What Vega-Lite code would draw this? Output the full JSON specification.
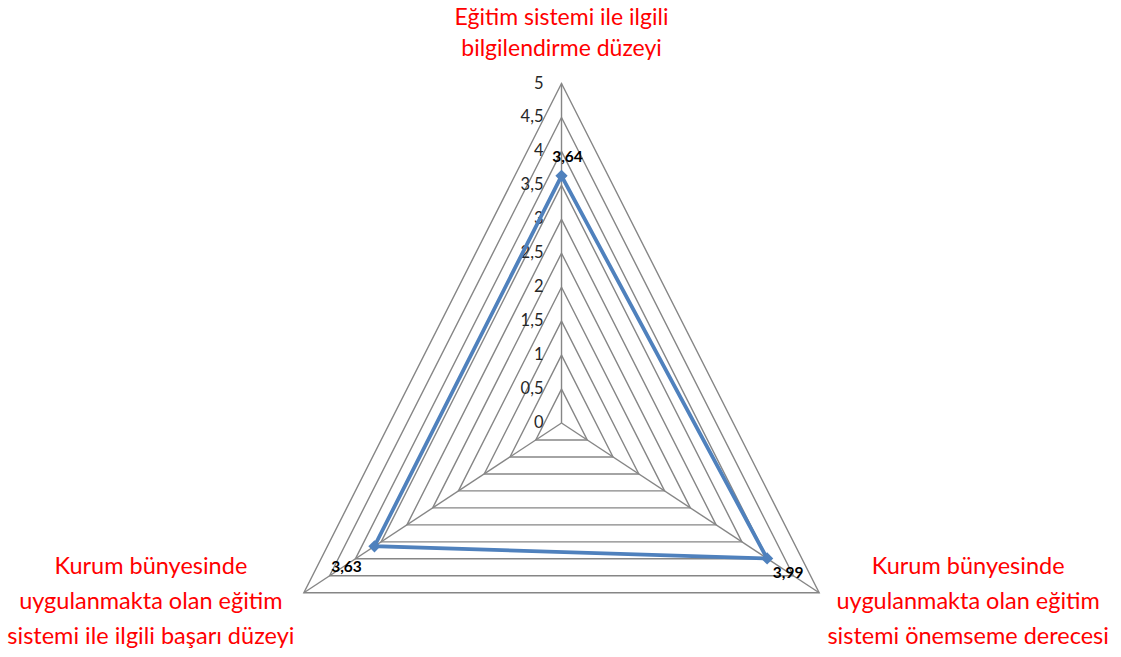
{
  "$schema": "https://vega.github.io/schema/vega-lite/v6.json",
  "width": 1121,
  "height": 657,
  "autosize": {"type": "none"},
  "padding": 0,
  "background": "white",
  "config": {
    "view": {"stroke": null},
    "locale": {"number": {"decimal": ",", "thousands": ".", "grouping": [3], "currency": ["", " TL"]}}
  },
  "datasets": {
    "scores": [
      {"i": 0, "puan": 3.64, "lines": ["Eğitim sistemi ile ilgili", "bilgilendirme düzeyi"]},
      {"i": 1, "puan": 3.99, "lines": ["Kurum bünyesinde", "uygulanmakta olan eğitim", "sistemi önemseme derecesi"]},
      {"i": 2, "puan": 3.63, "lines": ["Kurum bünyesinde", "uygulanmakta olan eğitim", "sistemi ile ilgili başarı düzeyi"]}
    ],
    "grid": [
      {"lv": 0.5, "ax": [0, 1, 2]},
      {"lv": 1, "ax": [0, 1, 2]},
      {"lv": 1.5, "ax": [0, 1, 2]},
      {"lv": 2, "ax": [0, 1, 2]},
      {"lv": 2.5, "ax": [0, 1, 2]},
      {"lv": 3, "ax": [0, 1, 2]},
      {"lv": 3.5, "ax": [0, 1, 2]},
      {"lv": 4, "ax": [0, 1, 2]},
      {"lv": 4.5, "ax": [0, 1, 2]},
      {"lv": 5, "ax": [0, 1, 2]}
    ],
    "ticks": [
      {"lv": 0}, {"lv": 0.5}, {"lv": 1}, {"lv": 1.5}, {"lv": 2}, {"lv": 2.5},
      {"lv": 3}, {"lv": 3.5}, {"lv": 4}, {"lv": 4.5}, {"lv": 5}
    ]
  },
  "layer": [
    {
      "data": {"name": "grid"},
      "transform": [
        {"flatten": ["ax"]},
        {"calculate": "datum.ax * 2 * PI / 3", "as": "theta"},
        {"calculate": "datum.lv * sin(datum.theta)", "as": "gx"},
        {"calculate": "datum.lv * cos(datum.theta)", "as": "gy"}
      ],
      "mark": {"type": "line", "interpolate": "linear-closed", "stroke": "#868686", "strokeWidth": 1.4},
      "encoding": {
        "x": {"field": "gx", "type": "quantitative", "scale": {"domain": [-9.437, 9.403], "nice": false, "zero": false}, "axis": null},
        "y": {"field": "gy", "type": "quantitative", "scale": {"domain": [-3.446, 6.23], "nice": false, "zero": false}, "axis": null},
        "detail": {"field": "lv", "type": "nominal"},
        "order": {"field": "ax", "type": "quantitative"}
      }
    },
    {
      "data": {"name": "scores"},
      "transform": [
        {"calculate": "datum.i * 2 * PI / 3", "as": "theta"},
        {"calculate": "5 * sin(datum.theta)", "as": "vx"},
        {"calculate": "5 * cos(datum.theta)", "as": "vy"},
        {"calculate": "0", "as": "cx"}
      ],
      "mark": {"type": "rule", "stroke": "#868686", "strokeWidth": 1.4},
      "encoding": {
        "x": {"field": "cx", "type": "quantitative", "scale": {"domain": [-9.437, 9.403], "nice": false, "zero": false}, "axis": null},
        "y": {"field": "cx", "type": "quantitative", "scale": {"domain": [-3.446, 6.23], "nice": false, "zero": false}, "axis": null},
        "x2": {"field": "vx"},
        "y2": {"field": "vy"}
      }
    },
    {
      "data": {"name": "ticks"},
      "transform": [{"calculate": "0", "as": "cx"}],
      "mark": {"type": "text", "align": "right", "baseline": "middle", "dx": -18, "font": "Lato", "fontSize": 16.5, "fill": "#262626"},
      "encoding": {
        "x": {"field": "cx", "type": "quantitative", "scale": {"domain": [-9.437, 9.403], "nice": false, "zero": false}, "axis": null},
        "y": {"field": "lv", "type": "quantitative", "scale": {"domain": [-3.446, 6.23], "nice": false, "zero": false}, "axis": null},
        "text": {"field": "lv", "type": "quantitative", "format": "~g"}
      }
    },
    {
      "data": {"name": "scores"},
      "transform": [
        {"calculate": "datum.i * 2 * PI / 3", "as": "theta"},
        {"calculate": "datum.puan * sin(datum.theta)", "as": "px"},
        {"calculate": "datum.puan * cos(datum.theta)", "as": "py"}
      ],
      "layer": [
        {
          "mark": {"type": "line", "interpolate": "linear-closed", "stroke": "#4F81BD", "strokeWidth": 3.8},
          "encoding": {
            "x": {"field": "px", "type": "quantitative", "scale": {"domain": [-9.437, 9.403], "nice": false, "zero": false}, "axis": null},
            "y": {"field": "py", "type": "quantitative", "scale": {"domain": [-3.446, 6.23], "nice": false, "zero": false}, "axis": null},
            "order": {"field": "i", "type": "quantitative"}
          }
        },
        {
          "mark": {"type": "point", "shape": "diamond", "filled": true, "size": 150, "fill": "#4F81BD", "opacity": 1},
          "encoding": {
            "x": {"field": "px", "type": "quantitative", "scale": {"domain": [-9.437, 9.403], "nice": false, "zero": false}, "axis": null},
            "y": {"field": "py", "type": "quantitative", "scale": {"domain": [-3.446, 6.23], "nice": false, "zero": false}, "axis": null}
          }
        },
        {
          "transform": [{"filter": "datum.i == 0"}],
          "mark": {"type": "text", "align": "center", "baseline": "middle", "dx": 6, "dy": -19, "font": "Lato", "fontSize": 15.5, "fontWeight": "bold", "fill": "#000000"},
          "encoding": {
            "x": {"field": "px", "type": "quantitative", "scale": {"domain": [-9.437, 9.403], "nice": false, "zero": false}, "axis": null},
            "y": {"field": "py", "type": "quantitative", "scale": {"domain": [-3.446, 6.23], "nice": false, "zero": false}, "axis": null},
            "text": {"field": "puan", "type": "quantitative", "format": ".2f"}
          }
        },
        {
          "transform": [{"filter": "datum.i == 1"}],
          "mark": {"type": "text", "align": "center", "baseline": "middle", "dx": 21, "dy": 15, "font": "Lato", "fontSize": 15.5, "fontWeight": "bold", "fill": "#000000"},
          "encoding": {
            "x": {"field": "px", "type": "quantitative", "scale": {"domain": [-9.437, 9.403], "nice": false, "zero": false}, "axis": null},
            "y": {"field": "py", "type": "quantitative", "scale": {"domain": [-3.446, 6.23], "nice": false, "zero": false}, "axis": null},
            "text": {"field": "puan", "type": "quantitative", "format": ".2f"}
          }
        },
        {
          "transform": [{"filter": "datum.i == 2"}],
          "mark": {"type": "text", "align": "center", "baseline": "middle", "dx": -28, "dy": 21, "font": "Lato", "fontSize": 15.5, "fontWeight": "bold", "fill": "#000000"},
          "encoding": {
            "x": {"field": "px", "type": "quantitative", "scale": {"domain": [-9.437, 9.403], "nice": false, "zero": false}, "axis": null},
            "y": {"field": "py", "type": "quantitative", "scale": {"domain": [-3.446, 6.23], "nice": false, "zero": false}, "axis": null},
            "text": {"field": "puan", "type": "quantitative", "format": ".2f"}
          }
        }
      ]
    },
    {
      "data": {"name": "scores"},
      "transform": [
        {"calculate": "datum.i * 2 * PI / 3", "as": "theta"},
        {"calculate": "5 * sin(datum.theta)", "as": "vx"},
        {"calculate": "5 * cos(datum.theta)", "as": "vy"}
      ],
      "layer": [
        {
          "transform": [{"filter": "datum.i == 0"}],
          "mark": {"type": "text", "align": "center", "baseline": "middle", "dy": -66, "lineHeight": 31, "font": "Lato", "fontSize": 23, "fill": "#FF0000"},
          "encoding": {
            "x": {"field": "vx", "type": "quantitative", "scale": {"domain": [-9.437, 9.403], "nice": false, "zero": false}, "axis": null},
            "y": {"field": "vy", "type": "quantitative", "scale": {"domain": [-3.446, 6.23], "nice": false, "zero": false}, "axis": null},
            "text": {"field": "lines"}
          }
        },
        {
          "transform": [{"filter": "datum.i == 1"}],
          "mark": {"type": "text", "align": "center", "baseline": "middle", "dx": 149, "dy": -26, "lineHeight": 35, "font": "Lato", "fontSize": 23.5, "fill": "#FF0000"},
          "encoding": {
            "x": {"field": "vx", "type": "quantitative", "scale": {"domain": [-9.437, 9.403], "nice": false, "zero": false}, "axis": null},
            "y": {"field": "vy", "type": "quantitative", "scale": {"domain": [-3.446, 6.23], "nice": false, "zero": false}, "axis": null},
            "text": {"field": "lines"}
          }
        },
        {
          "transform": [{"filter": "datum.i == 2"}],
          "mark": {"type": "text", "align": "center", "baseline": "middle", "dx": -153, "dy": -26, "lineHeight": 35, "font": "Lato", "fontSize": 23.5, "fill": "#FF0000"},
          "encoding": {
            "x": {"field": "vx", "type": "quantitative", "scale": {"domain": [-9.437, 9.403], "nice": false, "zero": false}, "axis": null},
            "y": {"field": "vy", "type": "quantitative", "scale": {"domain": [-3.446, 6.23], "nice": false, "zero": false}, "axis": null},
            "text": {"field": "lines"}
          }
        }
      ]
    }
  ]
}
